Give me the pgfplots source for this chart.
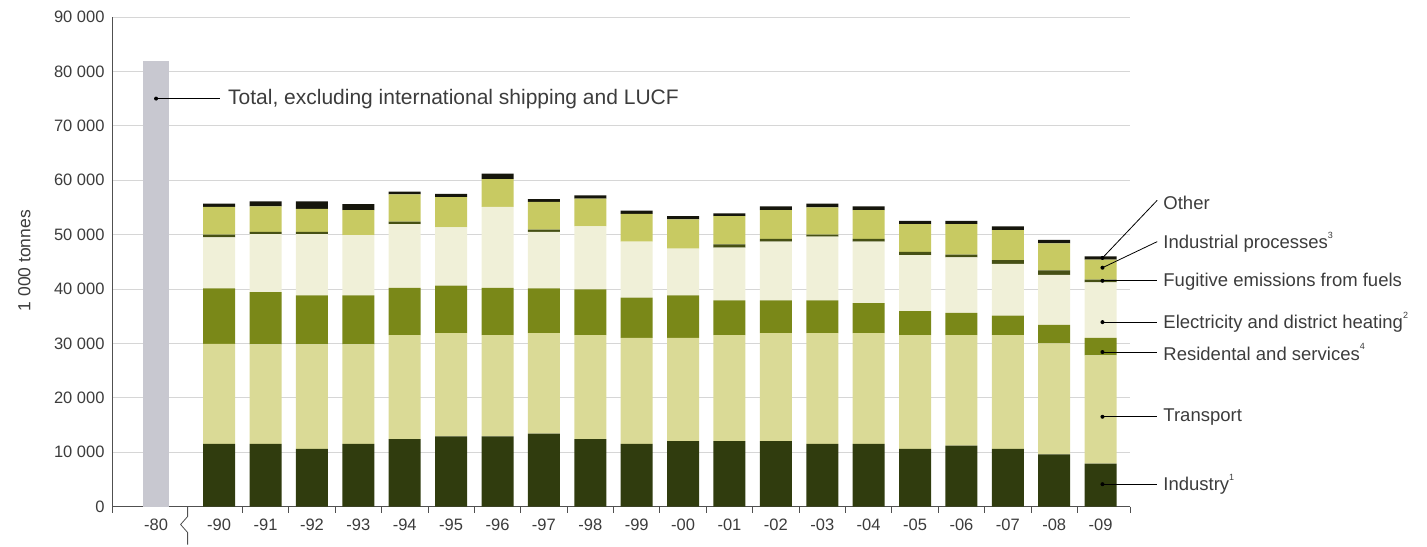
\documentclass[border=0pt]{standalone}
\usepackage{fontspec}
\setmainfont{Liberation Sans}
\usepackage{pgfplots}
\usepackage{pgfplotstable}
\pgfplotsset{compat=1.18}

\definecolor{cTot}{HTML}{C8C8D0}
\definecolor{cInd}{HTML}{303C0E}
\definecolor{cTra}{HTML}{DADA96}
\definecolor{cRes}{HTML}{7A8818}
\definecolor{cEle}{HTML}{F0F0D8}
\definecolor{cFug}{HTML}{465014}
\definecolor{cIP}{HTML}{C8CA62}
\definecolor{cOth}{HTML}{16160C}
\definecolor{txt}{HTML}{3C3C3C}
\definecolor{axl}{HTML}{505050}

\newcommand{\sups}[1]{\raisebox{0.55em}{\fontsize{9bp}{9bp}\selectfont #1}}

\tikzset{lbl/.style={anchor=west, inner sep=0pt, text=txt, font=\fontsize{18.5bp}{21bp}\selectfont},
  pl/.style={black, line width=0.8bp},
  tk/.style={axl, line width=0.8bp},
  dotm/.style={circle, fill=black, inner sep=0pt, minimum size=4bp}}

\pgfplotstableread{
x     tot   ind   tra   res   ele   fug  ip   oth
-1.36 82000 0     0     0     0     0    0    0
0     0     11500 18400 10200 9400  500  5100 600
1     0     11500 18300 9600  10700 400  4700 900
2     0     10600 19200 9000  11300 400  4200 1400
3     0     11500 18300 9000  11100 0    4600 1100
4     0     12400 19100 8700  11700 500  5000 500
5     0     12900 19000 8700  10700 0    5600 600
6     0     12900 18600 8700  14900 0    5100 1000
7     0     13400 18500 8200  10400 400  5100 500
8     0     12400 19100 8400  11600 0    5100 600
9     0     11500 19500 7400  10300 0    5100 600
10    0     12000 19000 7800  8600  0    5400 600
11    0     12000 19500 6400  9700  600  5200 500
12    0     12000 19900 6000  10800 500  5300 700
13    0     11500 20400 6000  11700 400  5000 700
14    0     11500 20400 5500  11300 500  5300 700
15    0     10600 20900 4400  10300 600  5100 600
16    0     11200 20300 4100  10200 500  5600 600
17    0     10600 20900 3600  9500  700  5500 700
18    0     9600  20400 3400  9200  800  5000 600
19    0     7900  19900 3200  10200 500  3700 600
}\datatable

\begin{document}
\begin{tikzpicture}[font=\fontsize{17bp}{20bp}\selectfont]
\useasboundingbox (0,0) rectangle (1427bp,547bp);
\begin{axis}[
  at={(112bp,40.5bp)}, anchor=south west,
  scale only axis, width=1018bp, height=489.5bp,
  xmin=-2.31, xmax=19.634, ymin=0, ymax=90000,
  ybar stacked, bar width=0.69,
  axis x line*=bottom, axis y line*=left,
  axis line style={color=axl, line width=0.8bp},
  ymajorgrids, grid style={color=black!16, line width=0.7bp},
  scaled y ticks=false,
  ytick={0,10000,20000,30000,40000,50000,60000,70000,80000,90000},
  yticklabels={0,10~000,20~000,30~000,40~000,50~000,60~000,70~000,80~000,90~000},
  xtick={-1.36,0,1,2,3,4,5,6,7,8,9,10,11,12,13,14,15,16,17,18,19},
  xticklabels={-80,-90,-91,-92,-93,-94,-95,-96,-97,-98,-99,-00,-01,-02,-03,-04,-05,-06,-07,-08,-09},
  major tick length=0pt,
  yticklabel style={text=txt, font=\fontsize{16.5bp}{19bp}\selectfont, xshift=-4bp},
  xticklabel style={text=txt, font=\fontsize{16.5bp}{19bp}\selectfont, yshift=-9bp},
  clip=false,
]
\addplot[fill=cTot, draw=none, bar width=0.56] table[x=x, y=tot] {\datatable};
\addplot[fill=cInd, draw=none] table[x=x, y=ind] {\datatable};
\addplot[fill=cTra, draw=none] table[x=x, y=tra] {\datatable};
\addplot[fill=cRes, draw=none] table[x=x, y=res] {\datatable};
\addplot[fill=cEle, draw=none] table[x=x, y=ele] {\datatable};
\addplot[fill=cFug, draw=none] table[x=x, y=fug] {\datatable};
\addplot[fill=cIP, draw=none] table[x=x, y=ip] {\datatable};
\addplot[fill=cOth, draw=none] table[x=x, y=oth] {\datatable};

\draw[tk] (axis cs:-2.31,0) -- ++(0pt,-6bp);
\draw[tk] (axis cs:0.5,0) -- ++(0pt,-6bp);
\draw[tk] (axis cs:1.5,0) -- ++(0pt,-6bp);
\draw[tk] (axis cs:2.5,0) -- ++(0pt,-6bp);
\draw[tk] (axis cs:3.5,0) -- ++(0pt,-6bp);
\draw[tk] (axis cs:4.5,0) -- ++(0pt,-6bp);
\draw[tk] (axis cs:5.5,0) -- ++(0pt,-6bp);
\draw[tk] (axis cs:6.5,0) -- ++(0pt,-6bp);
\draw[tk] (axis cs:7.5,0) -- ++(0pt,-6bp);
\draw[tk] (axis cs:8.5,0) -- ++(0pt,-6bp);
\draw[tk] (axis cs:9.5,0) -- ++(0pt,-6bp);
\draw[tk] (axis cs:10.5,0) -- ++(0pt,-6bp);
\draw[tk] (axis cs:11.5,0) -- ++(0pt,-6bp);
\draw[tk] (axis cs:12.5,0) -- ++(0pt,-6bp);
\draw[tk] (axis cs:13.5,0) -- ++(0pt,-6bp);
\draw[tk] (axis cs:14.5,0) -- ++(0pt,-6bp);
\draw[tk] (axis cs:15.5,0) -- ++(0pt,-6bp);
\draw[tk] (axis cs:16.5,0) -- ++(0pt,-6bp);
\draw[tk] (axis cs:17.5,0) -- ++(0pt,-6bp);
\draw[tk] (axis cs:18.5,0) -- ++(0pt,-6bp);
\draw[tk] (axis cs:19.634,0) -- ++(0pt,-6bp);
\draw[tk] (axis cs:-0.68,0) -- ++(0pt,-10bp) -- ++(-7bp,-8bp) -- ++(7bp,-8bp) -- ++(0pt,-12bp);

\node[rotate=90, text=txt, font=\fontsize{17.5bp}{20bp}\selectfont] at (axis cs:-4.2,45200) {1~000 tonnes};

\coordinate (t0) at (axis cs:-1.36,75000);
\coordinate (t1) at (axis cs:0.02,75000);
\coordinate (t2) at (axis cs:0.19,75000);
\coordinate (o0) at (axis cs:19.04,45700);
\coordinate (o1) at (axis cs:20.22,56300);
\coordinate (o2) at (axis cs:20.35,55800);
\coordinate (i0) at (axis cs:19.04,43900);
\coordinate (i1) at (axis cs:20.22,48700);
\coordinate (i2) at (axis cs:20.35,48600);
\coordinate (f0) at (axis cs:19.04,41500);
\coordinate (f1) at (axis cs:20.22,41500);
\coordinate (f2) at (axis cs:20.35,41300);
\coordinate (e0) at (axis cs:19.04,33900);
\coordinate (e1) at (axis cs:20.22,33900);
\coordinate (e2) at (axis cs:20.35,33900);
\coordinate (r0) at (axis cs:19.04,28400);
\coordinate (r1) at (axis cs:20.22,28400);
\coordinate (r2) at (axis cs:20.35,28400);
\coordinate (p0) at (axis cs:19.04,16500);
\coordinate (p1) at (axis cs:20.22,16500);
\coordinate (p2) at (axis cs:20.35,16500);
\coordinate (n0) at (axis cs:19.04,4100);
\coordinate (n1) at (axis cs:20.22,4100);
\coordinate (n2) at (axis cs:20.35,4100);
\end{axis}

\draw[pl] (t0) -- (t1);
\node[dotm] at (t0) {};
\node[anchor=west, inner sep=0pt, text=txt, font=\fontsize{21bp}{24bp}\selectfont] at (t2) {Total, excluding international shipping and LUCF};

\draw[pl] (o0) -- (o1); \node[dotm] at (o0) {}; \node[lbl] at (o2) {Other};
\draw[pl] (i0) -- (i1); \node[dotm] at (i0) {}; \node[lbl] at (i2) {Industrial processes\sups{3}};
\draw[pl] (f0) -- (f1); \node[dotm] at (f0) {}; \node[lbl] at (f2) {Fugitive emissions from fuels};
\draw[pl] (e0) -- (e1); \node[dotm] at (e0) {}; \node[lbl] at (e2) {Electricity and district heating\sups{2}};
\draw[pl] (r0) -- (r1); \node[dotm] at (r0) {}; \node[lbl] at (r2) {Residental and services\sups{4}};
\draw[pl] (p0) -- (p1); \node[dotm] at (p0) {}; \node[lbl] at (p2) {Transport};
\draw[pl] (n0) -- (n1); \node[dotm] at (n0) {}; \node[lbl] at (n2) {Industry\sups{1}};
\end{tikzpicture}
\end{document}
